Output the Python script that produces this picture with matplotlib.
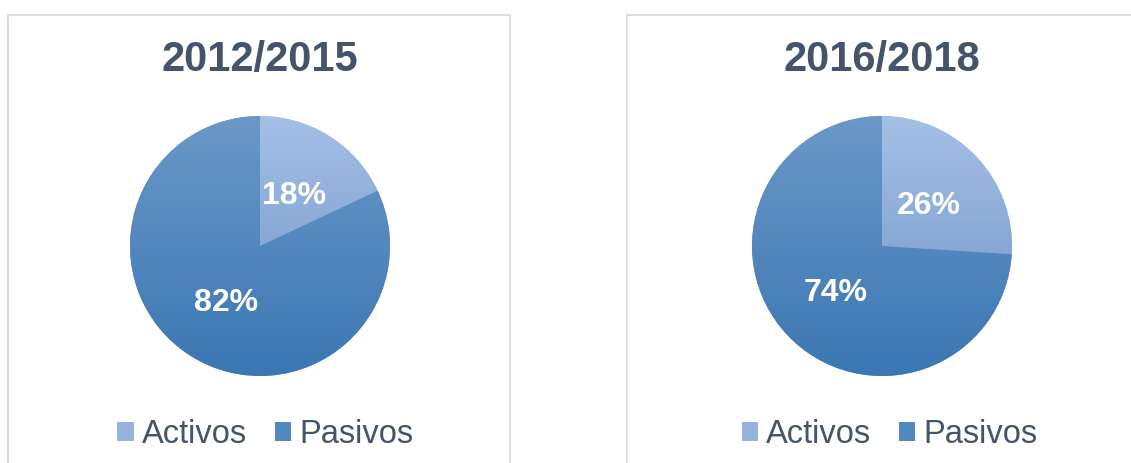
import numpy as np
import matplotlib
matplotlib.use("Agg")
import matplotlib.pyplot as plt
from matplotlib.colors import LinearSegmentedColormap
from matplotlib.patches import Rectangle, Patch

# data
periods = ["2012/2015", "2016/2018"]
categories = ["Activos", "Pasivos"]
activos = [18, 26]
pasivos = [82, 74]

# gradient colours (top -> bottom) for each category
grad_colours = {"Activos": ("#a5c0e6", "#86a7d4"),
                "Pasivos": ("#6b98c8", "#3b77b3")}
text_col = "#44546a"
border_col = "#d9dfe7"

plt.rcParams["font.family"] = ["Liberation Sans", "DejaVu Sans"]

W, H = 1131, 463
fig = plt.figure(figsize=(W / 100, H / 100), dpi=100)

# panel frames (open at the bottom, like the cropped screenshot)
panel_left = [8, 627]
panel_right = [510, 1140]
for x0, x1 in zip(panel_left, panel_right):
    fig.patches.append(Rectangle((x0 / W, -0.1), (x1 - x0) / W, (H - 15) / H + 0.1,
                                 transform=fig.transFigure, fill=False,
                                 edgecolor=border_col, linewidth=1.5))

pie_cx = [260, 882]
pie_cy = 246
R = 130
legend_x = [0.52, 0.53]

for i, period in enumerate(periods):
    ax = fig.add_axes([(pie_cx[i] - R) / W, (H - pie_cy - R) / H, 2 * R / W, 2 * R / H])
    ax.set_xlim(-1, 1)
    ax.set_ylim(-1, 1)
    ax.set_aspect("equal")
    ax.axis("off")
    vals = [activos[i], pasivos[i]]
    wedges, texts, autotexts = ax.pie(
        vals, startangle=90, counterclock=False, radius=1,
        autopct="%.0f%%", pctdistance=0.49,
        colors=[grad_colours[c][0] for c in categories],
        textprops=dict(color="white", fontsize=23, fontweight="bold"))
    for w, cat in zip(wedges, categories):
        ext = w.get_path().get_extents()
        cmap = LinearSegmentedColormap.from_list(cat, grad_colours[cat][::-1])
        grad = np.linspace(0, 1, 256).reshape(-1, 1)
        im = ax.imshow(grad, cmap=cmap, origin="lower", aspect="auto",
                       extent=[ext.x0, ext.x1, ext.y0, ext.y1], zorder=w.get_zorder())
        im.set_clip_path(w)
    for t in autotexts:
        t.set_zorder(5)
        t.set_va("center_baseline")
    ax.set_xlim(-1, 1)
    ax.set_ylim(-1, 1)

    fig.text(pie_cx[i] / W, 1 - 60 / H, period, ha="center", va="center",
             fontsize=30, fontweight="bold", color=text_col)

    handles = [Patch(facecolor=np.mean([matplotlib.colors.to_rgb(c) for c in grad_colours[cat]], axis=0),
                     edgecolor="none", label=cat) for cat in categories]
    ax.legend(handles=handles, loc="center", bbox_to_anchor=(legend_x[i], -0.225),
              ncol=2, frameon=False, fontsize=23.5, labelcolor=text_col,
              handlelength=0.5, handleheight=0.5, handletextpad=0.25,
              columnspacing=0.85)

fig.savefig("out.png", dpi=100, facecolor="white")
